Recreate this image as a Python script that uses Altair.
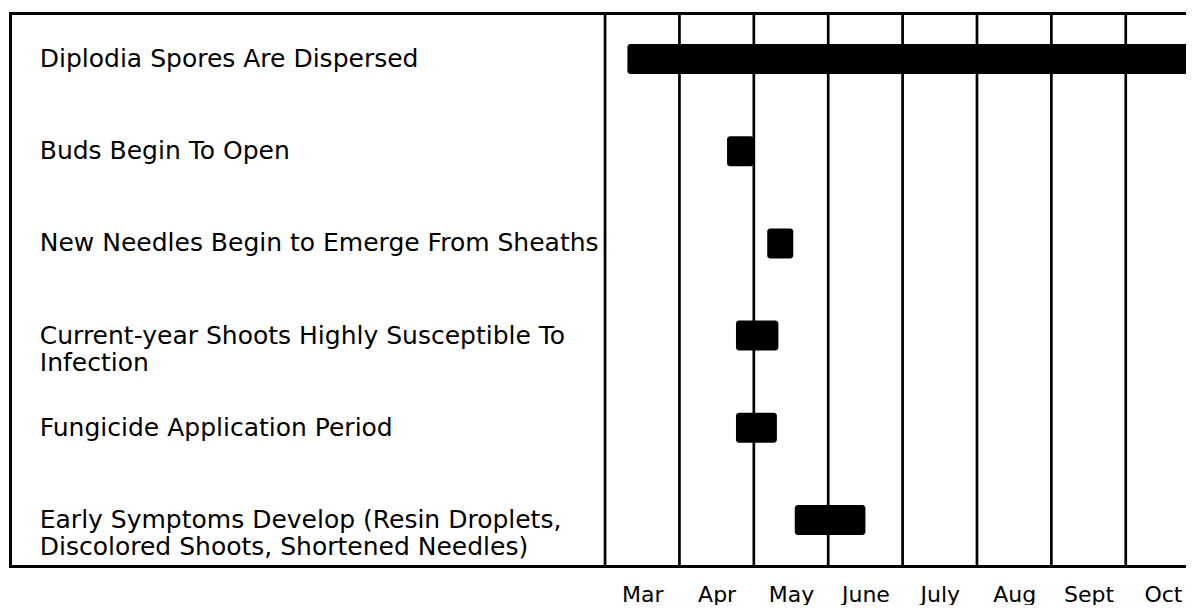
import altair as alt
import pandas as pd

# ---- data ----
activities = [
    "Diplodia Spores Are Dispersed",
    "Buds Begin To Open",
    "New Needles Begin to Emerge From Sheaths",
    "Current-year Shoots Highly Susceptible To\nInfection",
    "Fungicide Application Period",
    "Early Symptoms Develop (Resin Droplets,\nDiscolored Shoots, Shortened Needles)",
]
# start / end in months after 1 March (0 = Mar 1, 1 = Apr 1, ...)
starts = [0.30, 1.64, 2.18, 1.76, 1.76, 2.55]
ends = [8.00, 2.00, 2.53, 2.33, 2.31, 3.50]
months = ["Mar", "Apr", "May", "June", "July", "Aug", "Sept", "Oct"]
month_bounds = [0, 1, 2, 3, 4, 5, 6, 7]
label_pos = -7.6

keys = [a.replace("\n", " ") for a in activities]
bars_df = pd.DataFrame({"key": keys, "start": starts, "end": ends})
text_df = pd.DataFrame({"key": keys, "label": [a.split("\n") for a in activities]})
grid_df = pd.DataFrame({"m": month_bounds})

FONT = "DejaVu Sans"

xscale = alt.Scale(domain=[-8, 7.81], nice=False, zero=False)
label_expr = "[" + ",".join("'%s'" % m for m in months) + "][floor(datum.value)]"

bottom_axis = alt.Axis(
    orient="bottom",
    values=[i + 0.5 for i in range(len(months))],
    labelExpr=label_expr,
    title=None,
    grid=False,
    ticks=False,
    tickSize=0,
    domain=True,
    domainColor="black",
    domainWidth=3,
    domainCap="square",
    labelFont=FONT,
    labelFontSize=22,
    labelColor="black",
    labelPadding=18,
    labelBaseline="top",
)
top_axis = alt.Axis(
    orient="top",
    title=None,
    grid=False,
    ticks=False,
    tickSize=0,
    labels=False,
    domain=True,
    domainColor="black",
    domainWidth=3,
    domainCap="square",
)
left_axis = alt.Axis(
    orient="left",
    title=None,
    grid=False,
    ticks=False,
    tickSize=0,
    labels=False,
    domain=True,
    domainColor="black",
    domainWidth=3,
    domainCap="square",
)
yscale = alt.Scale(domain=keys, paddingInner=0, paddingOuter=0)

grid = alt.Chart(grid_df).mark_rule(color="black", strokeWidth=2.7).encode(
    x=alt.X("m:Q", scale=xscale, axis=top_axis)
)

bars = alt.Chart(bars_df).mark_bar(color="black", size=30, cornerRadius=3, clip=True).encode(
    x=alt.X("start:Q", scale=xscale, axis=bottom_axis),
    x2="end:Q",
    y=alt.Y("key:N", scale=yscale, axis=None, sort=keys),
)

texts = alt.Chart(text_df).mark_text(
    align="left", baseline="middle", font=FONT, fontSize=25, color="black", lineHeight=27
).encode(
    x=alt.datum(label_pos, scale=xscale, axis=None),
    y=alt.Y("key:N", scale=yscale, axis=left_axis, sort=keys),
    text="label",
)

chart = (
    alt.layer(grid, bars, texts)
    .resolve_axis(x="independent", y="independent")
    .properties(
        width=1176,
        height=553,
        padding={"left": 2, "top": 5, "right": 0, "bottom": 39},
        autosize=alt.AutoSizeParams(type="none"),
        background="white",
    )
    .configure_view(stroke=None)
)

chart.save("out.html", embed_options={"renderer": "svg", "actions": False})
